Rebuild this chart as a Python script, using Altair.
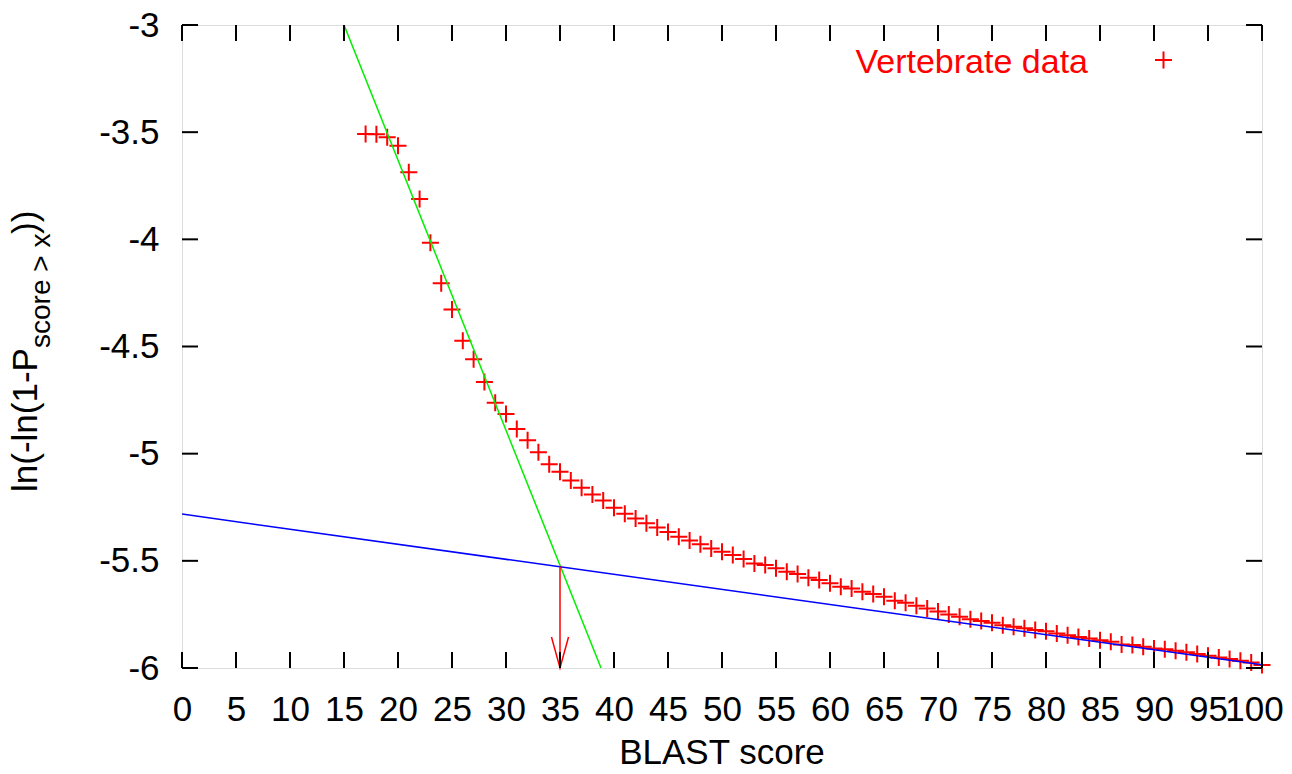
import altair as alt
import pandas as pd

# ---- data ----
score = list(range(17, 101))
value = [
    -3.509, -3.510, -3.524, -3.563, -3.687, -3.812, -4.016, -4.205, -4.327, -4.473,
    -4.560, -4.666, -4.762, -4.815, -4.885, -4.937, -4.993, -5.049, -5.084, -5.125,
    -5.159, -5.190, -5.218, -5.252, -5.280, -5.303, -5.325, -5.344, -5.365, -5.388,
    -5.405, -5.423, -5.442, -5.458, -5.473, -5.492, -5.512, -5.520, -5.535, -5.551,
    -5.562, -5.579, -5.590, -5.605, -5.621, -5.629, -5.644, -5.655, -5.668, -5.686,
    -5.695, -5.710, -5.722, -5.736, -5.750, -5.761, -5.773, -5.781, -5.789, -5.800,
    -5.808, -5.815, -5.823, -5.828, -5.839, -5.847, -5.855, -5.862, -5.870, -5.878,
    -5.890, -5.893, -5.901, -5.909, -5.912, -5.920, -5.927, -5.935, -5.943, -5.951,
    -5.958, -5.966, -5.974, -5.986,
]
x_ticks = list(range(0, 101, 5))
y_ticks = [-6.0, -5.5, -5.0, -4.5, -4.0, -3.5, -3.0]
green_x = [15.0, 38.8]
green_y = [-3.0, -6.0]
blue_x = [0.0, 100.0]
blue_y = [-5.282, -5.985]
arrow_x = [35.0]
arrow_y_start = [-5.525]
arrow_y_end = [-6.0]
legend_label = ["Vertebrate data"]
x_title = ["BLAST score"]
y_title_main = ["ln(-ln(1-P"]
y_title_sub = ["score > x"]
y_title_end = ["))"]

W, H = 1080, 643
FONT = "Liberation Sans"
FS = 35
FS_SUB = 28

pts_df = pd.DataFrame({"score": score, "value": value})
green_df = pd.DataFrame({"x": green_x, "y": green_y})
blue_df = pd.DataFrame({"x": blue_x, "y": blue_y})
arrow_df = pd.DataFrame({"x": arrow_x, "y1": arrow_y_start, "y2": arrow_y_end})
xt_df = pd.DataFrame({"t": x_ticks})
yt_df = pd.DataFrame({"t": y_ticks})

xs = alt.Scale(domain=[0, 100], nice=False, zero=False)
ys = alt.Scale(domain=[-6, -3], nice=False, zero=False)

x_axis = alt.Axis(values=x_ticks, ticks=False, domain=False, grid=False,
                  labelFontSize=FS, labelFont=FONT, labelColor="black",
                  labelPadding=24, labelFlush=False, labelOverlap=False,
                  labelOffset={"condition": {"test": "datum.value == 100", "value": -8}, "value": 0},
                  labelExpr="toString(datum.value)")
y_axis = alt.Axis(values=y_ticks, ticks=False, domain=False, grid=False,
                  labelFontSize=FS, labelFont=FONT, labelColor="black",
                  labelPadding=23, labelFlush=False, labelOverlap=False,
                  labelExpr="toString(datum.value)")

PLUS = "M-1,0L1,0M0,-1L0,1"

points = alt.Chart(pts_df).mark_point(
    shape=PLUS, filled=False, color="#ff0000", strokeWidth=2, size=289, opacity=1
).encode(
    x=alt.X("score:Q", scale=xs, axis=x_axis, title=None),
    y=alt.Y("value:Q", scale=ys, axis=y_axis, title=None),
)

green = alt.Chart(green_df).mark_line(color="#00ee00", strokeWidth=1.5, clip=True).encode(
    x=alt.X("x:Q", scale=xs), y=alt.Y("y:Q", scale=ys)
)
blue = alt.Chart(blue_df).mark_line(color="#0000ff", strokeWidth=1.5, clip=True).encode(
    x=alt.X("x:Q", scale=xs), y=alt.Y("y:Q", scale=ys)
)
arrow_stem = alt.Chart(arrow_df).mark_rule(color="#ff0000", strokeWidth=1.5).encode(
    x=alt.X("x:Q", scale=xs), y=alt.Y("y1:Q", scale=ys), y2="y2:Q"
)
arrow_head = alt.Chart(arrow_df).mark_point(
    shape="M-0.55,-2L0,0L0.55,-2", filled=False, color="#ff0000",
    strokeWidth=1.5, size=961, opacity=1
).encode(x=alt.X("x:Q", scale=xs), y=alt.Y("y2:Q", scale=ys))

TL = 16
tick_style = dict(color="black", strokeWidth=2)
xt_bottom = alt.Chart(xt_df).mark_rule(**tick_style).encode(
    x=alt.X("t:Q", scale=xs), y=alt.value(H), y2=alt.value(H - TL))
xt_top = alt.Chart(xt_df).mark_rule(**tick_style).encode(
    x=alt.X("t:Q", scale=xs), y=alt.value(0), y2=alt.value(TL))
yt_left = alt.Chart(yt_df).mark_rule(**tick_style).encode(
    y=alt.Y("t:Q", scale=ys), x=alt.value(0), x2=alt.value(TL))
yt_right = alt.Chart(yt_df).mark_rule(**tick_style).encode(
    y=alt.Y("t:Q", scale=ys), x=alt.value(W), x2=alt.value(W - TL))

leg_df = pd.DataFrame({"label": legend_label})
leg_text = alt.Chart(leg_df).mark_text(
    align="right", baseline="alphabetic", font=FONT, fontSize=34, color="#ff0000"
).encode(text="label:N", x=alt.value(906), y=alt.value(48))
leg_plus = alt.Chart(leg_df).mark_point(
    shape=PLUS, filled=False, color="#ff0000", strokeWidth=2, size=289, opacity=1
).encode(x=alt.value(981.5), y=alt.value(35))

xt_title = alt.Chart(pd.DataFrame({"t": x_title})).mark_text(
    align="center", baseline="alphabetic", font=FONT, fontSize=FS, color="black"
).encode(text="t:N", x=alt.value(W / 2), y=alt.value(739))

yt_main = alt.Chart(pd.DataFrame({"t": y_title_main})).mark_text(
    align="left", baseline="alphabetic", font=FONT, fontSize=FS, color="black", angle=270
).encode(text="t:N", x=alt.value(-145), y=alt.value(467))
yt_sub = alt.Chart(pd.DataFrame({"t": y_title_sub})).mark_text(
    align="left", baseline="alphabetic", font=FONT, fontSize=FS_SUB, color="black", angle=270
).encode(text="t:N", x=alt.value(-132), y=alt.value(323))
yt_end = alt.Chart(pd.DataFrame({"t": y_title_end})).mark_text(
    align="left", baseline="alphabetic", font=FONT, fontSize=FS, color="black", angle=270
).encode(text="t:N", x=alt.value(-145), y=alt.value(209))

chart = alt.layer(
    points, green, blue, arrow_stem, arrow_head,
    xt_bottom, xt_top, yt_left, yt_right,
    leg_text, leg_plus, xt_title, yt_main, yt_sub, yt_end,
).properties(
    width=W, height=H,
    autosize=alt.AutoSizeParams(type="none"),
    padding={"left": 174, "top": 17, "right": 22, "bottom": 98},
).configure_view(
    stroke="black", strokeWidth=2
).configure(background="white")

chart.save("out.html", embed_options={"renderer": "svg", "actions": False})
